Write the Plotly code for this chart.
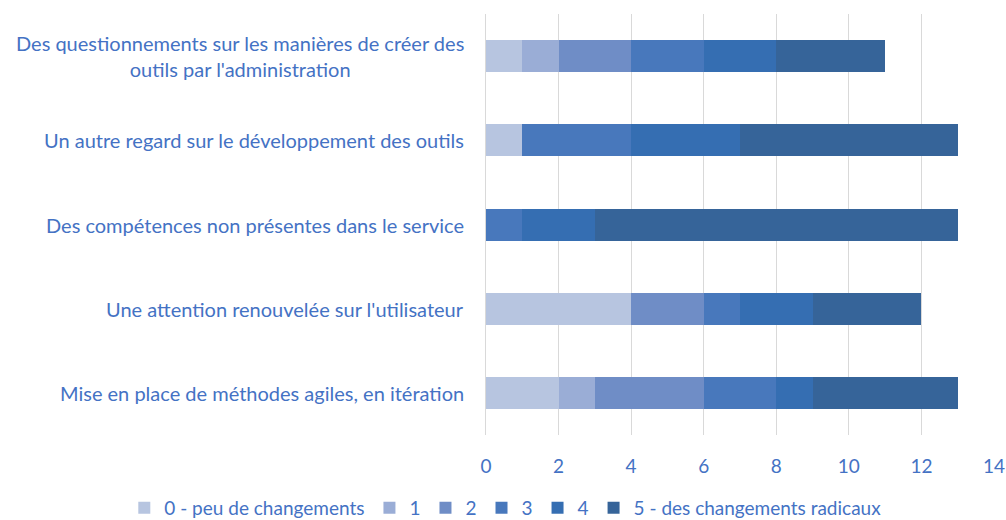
import plotly.graph_objects as go

categories = [
    "Des questionnements sur les manières de créer des<br>outils par l'administration",
    "Un autre regard sur le développement des outils",
    "Des compétences non présentes dans le service",
    "Une attention renouvelée sur l'utilisateur",
    "Mise en place de méthodes agiles, en itération",
]
series_names = ["0 - peu de changements", "1", "2", "3", "4", "5 - des changements radicaux"]
s0 = [1, 1, 0, 4, 2]
s1 = [1, 0, 0, 0, 1]
s2 = [2, 0, 0, 2, 3]
s3 = [2, 3, 1, 1, 2]
s4 = [2, 3, 2, 2, 1]
s5 = [3, 6, 10, 3, 4]
series_values = [s0, s1, s2, s3, s4, s5]
tick_vals = [0, 2, 4, 6, 8, 10, 12, 14]

colors = ["#B7C5E0", "#9AADD6", "#6F8DC6", "#4878BC", "#356EB2", "#366499"]
text_color = "#4472C4"
font_family = "Lato, Carlito, Calibri, sans-serif"

fig = go.Figure()
for name, vals, c in zip(series_names, series_values, colors):
    fig.add_trace(go.Bar(
        y=categories, x=vals, name=name, orientation="h",
        marker=dict(color=c, line=dict(width=0)),
        hoverinfo="x+name",
    ))

for cat in categories:
    fig.add_annotation(
        x=0, xref="paper", y=cat, yref="y", xshift=-20,
        xanchor="right", yanchor="middle", align="center",
        text=cat, showarrow=False,
        font=dict(family=font_family, size=20, color=text_color),
    )

fig.update_layout(
    barmode="stack",
    bargap=0.62,
    width=1006, height=520,
    margin=dict(l=486, r=12, t=14, b=85, autoexpand=False),
    paper_bgcolor="white", plot_bgcolor="white",
    font=dict(family=font_family, size=19, color=text_color),
    legend=dict(
        orientation="h", xref="paper", yref="paper",
        x=-0.712, xanchor="left", y=-0.128, yanchor="top",
        font=dict(size=19, color=text_color), traceorder="normal",
        itemwidth=30,
    ),
    xaxis=dict(
        range=[0, 14], tickvals=tick_vals, showgrid=True,
        gridcolor="#D9D9D9", gridwidth=1, zeroline=False,
        showline=False, ticklabelstandoff=18,
        tickfont=dict(size=19, color=text_color),
    ),
    yaxis=dict(
        autorange="reversed", showticklabels=False, showline=True,
        linecolor="#D9D9D9", linewidth=1, showgrid=False,
    ),
)

fig.write_html(
    "out.html",
    config={"displayModeBar": False},
    post_script="document.body.style.margin='0';document.body.style.overflow='hidden';",
)
